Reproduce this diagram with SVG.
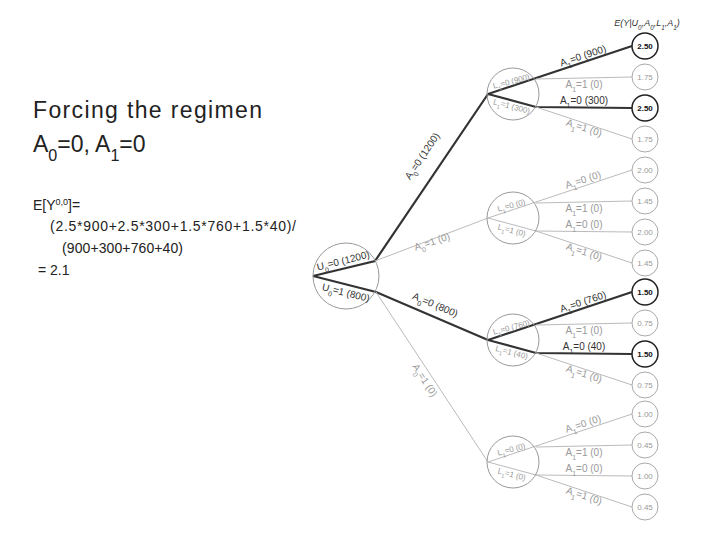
<svg xmlns="http://www.w3.org/2000/svg" width="720" height="540" viewBox="0 0 720 540">
<style>
.b{fill:none;stroke:#333;stroke-width:2.2}
.l{fill:none;stroke:#bbb;stroke-width:1}
.nc{fill:none;stroke:#999;stroke-width:1}
.lf{fill:#fff;stroke:#aaa;stroke-width:1}
.lfb{fill:#fff;stroke:#222;stroke-width:1.5}
.t{font-family:"Liberation Sans",Arial,sans-serif;font-size:10px;fill:#999;text-anchor:middle}
.td{font-family:"Liberation Sans",Arial,sans-serif;font-size:10px;fill:#333;text-anchor:middle}
.v{font-family:"Liberation Sans",Arial,sans-serif;font-size:8px;fill:#999;text-anchor:middle}
.vb{font-family:"Liberation Sans",Arial,sans-serif;font-size:8px;fill:#111;font-weight:bold;text-anchor:middle}
.m{font-family:"Liberation Sans",Arial,sans-serif;fill:#222}
.s{font-size:70%;baseline-shift:sub}
</style>
<rect width="720" height="540" fill="#fff"/>
<g id="title" class="m">
<text x="33" y="118" font-size="23" textLength="229">Forcing the regimen</text>
<text x="33" y="152" font-size="23">A<tspan class="s">0</tspan>=0, A<tspan class="s">1</tspan>=0</text>
<text x="33" y="210" font-size="14">E[Y<tspan font-size="9" baseline-shift="super">0,0</tspan>]=</text>
<text x="50" y="231" font-size="14" textLength="246">(2.5*900+2.5*300+1.5*760+1.5*40)/</text>
<text x="62" y="253" font-size="14" textLength="121">(900+300+760+40)</text>
<text x="38" y="275" font-size="14">= 2.1</text>
</g>
<g id="connectors">
<path class="b" d="M313,276 L375,261 L488,94"/>
<path class="l" d="M375,261 L488,218"/>
<path class="b" d="M313,276 L376,292 L488,340"/>
<path class="l" d="M376,292 L488,462"/>
<path class="b" d="M488,94 L632,46"/><path class="l" d="M536,79 L632,77"/><path class="b" d="M488,94 L536,107 L632,108"/><path class="l" d="M536,107 L632,139"/>
<path class="l" d="M488,218 L632,170"/><path class="l" d="M536,203 L632,201"/><path class="l" d="M488,218 L536,231 L632,232"/><path class="l" d="M536,231 L632,263"/>
<path class="b" d="M488,340 L632,292"/><path class="l" d="M536,325 L632,323"/><path class="b" d="M488,340 L536,353 L632,354"/><path class="l" d="M536,353 L632,385"/>
<path class="l" d="M488,462 L632,414"/><path class="l" d="M536,447 L632,445"/><path class="l" d="M488,462 L536,475 L632,476"/><path class="l" d="M536,475 L632,507"/>
</g>
<g id="root">
<circle class="nc" cx="346" cy="276" r="33"/>
<text class="td" transform="translate(344,264) rotate(-14)">U<tspan class="s">0</tspan>=0 (1200)</text>
<text class="td" transform="translate(345,296) rotate(14)">U<tspan class="s">0</tspan>=1 (800)</text>
</g>
<g id="edgelabels">
<text class="td" transform="translate(425,158) rotate(-56)">A<tspan class="s">0</tspan>=0 (1200)</text>
<text class="t" transform="translate(433,245) rotate(-18)">A<tspan class="s">0</tspan>=1 (0)</text>
<text class="td" transform="translate(434,308) rotate(23)">A<tspan class="s">0</tspan>=0 (800)</text>
<text class="t" transform="translate(422,382) rotate(57)">A<tspan class="s">0</tspan>=1 (0)</text>
</g>
<g id="n1">
<circle class="nc" cx="513" cy="94" r="26"/>
<text class="v" fill="#555" transform="translate(512,84) rotate(-15)">L<tspan class="s">1</tspan>=0 (900)</text>
<text class="v" fill="#555" transform="translate(511,109) rotate(15)">L<tspan class="s">1</tspan>=1 (300)</text>
<text class="td" transform="translate(584,59) rotate(-18)">A<tspan class="s">1</tspan>=0 (900)</text>
<text class="t" x="584" y="88">A<tspan class="s">1</tspan>=1 (0)</text>
<text class="td" x="584" y="104">A<tspan class="s">1</tspan>=0 (300)</text>
<text class="t" transform="translate(583,131) rotate(18)">A<tspan class="s">1</tspan>=1 (0)</text>
</g>
<g id="n2">
<circle class="nc" cx="513" cy="218" r="26"/>
<text class="v" transform="translate(512,208) rotate(-15)">L<tspan class="s">1</tspan>=0 (0)</text>
<text class="v" transform="translate(511,233) rotate(15)">L<tspan class="s">1</tspan>=1 (0)</text>
<text class="t" transform="translate(584,183) rotate(-18)">A<tspan class="s">1</tspan>=0 (0)</text>
<text class="t" x="584" y="212">A<tspan class="s">1</tspan>=1 (0)</text>
<text class="t" x="584" y="228">A<tspan class="s">1</tspan>=0 (0)</text>
<text class="t" transform="translate(583,255) rotate(18)">A<tspan class="s">1</tspan>=1 (0)</text>
</g>
<g id="n3">
<circle class="nc" cx="513" cy="340" r="26" stroke="#555"/>
<text class="v" fill="#555" transform="translate(512,330) rotate(-15)">L<tspan class="s">1</tspan>=0 (760)</text>
<text class="v" fill="#555" transform="translate(511,355) rotate(15)">L<tspan class="s">1</tspan>=1 (40)</text>
<text class="td" transform="translate(584,305) rotate(-18)">A<tspan class="s">1</tspan>=0 (760)</text>
<text class="t" x="584" y="334">A<tspan class="s">1</tspan>=1 (0)</text>
<text class="td" x="584" y="350">A<tspan class="s">1</tspan>=0 (40)</text>
<text class="t" transform="translate(583,377) rotate(18)">A<tspan class="s">1</tspan>=1 (0)</text>
</g>
<g id="n4">
<circle class="nc" cx="513" cy="462" r="26"/>
<text class="v" transform="translate(512,452) rotate(-15)">L<tspan class="s">1</tspan>=0 (0)</text>
<text class="v" transform="translate(511,477) rotate(15)">L<tspan class="s">1</tspan>=1 (0)</text>
<text class="t" transform="translate(584,427) rotate(-18)">A<tspan class="s">1</tspan>=0 (0)</text>
<text class="t" x="584" y="456">A<tspan class="s">1</tspan>=1 (0)</text>
<text class="t" x="584" y="472">A<tspan class="s">1</tspan>=0 (0)</text>
<text class="t" transform="translate(583,499) rotate(18)">A<tspan class="s">1</tspan>=1 (0)</text>
</g>
<g id="leaves">
<text x="647" y="26" font-family="Liberation Sans,Arial,sans-serif" font-size="9" font-style="italic" fill="#333" text-anchor="middle">E(Y|U<tspan class="s">0</tspan>,A<tspan class="s">0</tspan>,L<tspan class="s">1</tspan>,A<tspan class="s">1</tspan>)</text>
<circle class="lfb" cx="645" cy="46" r="13"/><text class="vb" x="645" y="49">2.50</text>
<circle class="lf" cx="645" cy="77" r="13"/><text class="v" x="645" y="80">1.75</text>
<circle class="lfb" cx="645" cy="108" r="13"/><text class="vb" x="645" y="111">2.50</text>
<circle class="lf" cx="645" cy="139" r="13"/><text class="v" x="645" y="142">1.75</text>
<circle class="lf" cx="645" cy="170" r="13"/><text class="v" x="645" y="173">2.00</text>
<circle class="lf" cx="645" cy="201" r="13"/><text class="v" x="645" y="204">1.45</text>
<circle class="lf" cx="645" cy="232" r="13"/><text class="v" x="645" y="235">2.00</text>
<circle class="lf" cx="645" cy="263" r="13"/><text class="v" x="645" y="266">1.45</text>
<circle class="lfb" cx="645" cy="292" r="13"/><text class="vb" x="645" y="295">1.50</text>
<circle class="lf" cx="645" cy="323" r="13"/><text class="v" x="645" y="326">0.75</text>
<circle class="lfb" cx="645" cy="354" r="13"/><text class="vb" x="645" y="357">1.50</text>
<circle class="lf" cx="645" cy="385" r="13"/><text class="v" x="645" y="388">0.75</text>
<circle class="lf" cx="645" cy="414" r="13"/><text class="v" x="645" y="417">1.00</text>
<circle class="lf" cx="645" cy="445" r="13"/><text class="v" x="645" y="448">0.45</text>
<circle class="lf" cx="645" cy="476" r="13"/><text class="v" x="645" y="479">1.00</text>
<circle class="lf" cx="645" cy="507" r="13"/><text class="v" x="645" y="510">0.45</text>
</g>
</svg>
